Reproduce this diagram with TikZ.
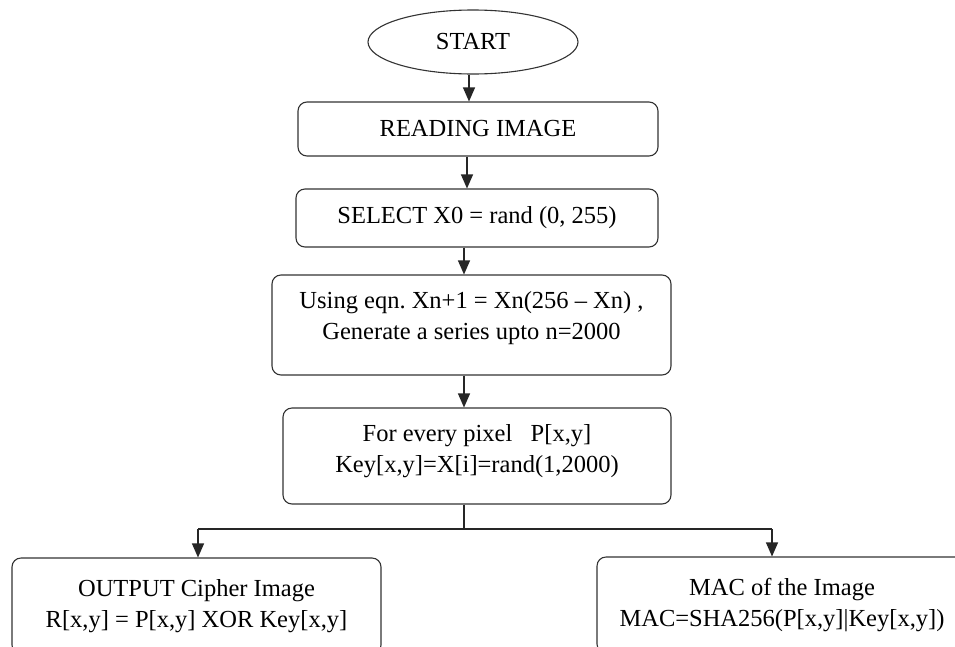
\documentclass[tikz,border=0pt]{standalone}
\usepackage{fontspec}
\setmainfont{Liberation Serif}
\usetikzlibrary{shapes.geometric,arrows.meta}
\begin{document}
\begin{tikzpicture}[x=1pt,y=-1pt,
  every node/.style={font=\fontsize{24.5}{31}\selectfont, text=black},
  procbox/.style={draw=black!80, line width=1.1pt, rounded corners=9pt, align=center, inner sep=0pt},
  txt/.style={align=center, inner sep=0pt},
  arr/.style={draw=black!85, line width=1.1pt, -{Triangle[width=12pt,length=14pt]}},
  ln/.style={draw=black!85, line width=1.1pt}]
\clip (0,0) rectangle (955,646);
\fill[white] (0,0) rectangle (955,646);
\node[draw=black!80, line width=1.1pt, ellipse, minimum width=210pt, minimum height=64pt, inner sep=0pt] (start) at (473,42) {START};
\node[procbox, minimum width=360pt, minimum height=54pt] (read) at (478,129) {READING IMAGE};
\node[procbox, minimum width=362pt, minimum height=58pt] (sel) at (477,218) {SELECT X0 = rand (0, 255)};
\node[procbox, minimum width=399pt, minimum height=100pt] (use) at (471.5,325) {};
\node[txt] (usetxt) at ([yshift=7pt]use.center) {Using eqn.\ Xn+1 = Xn(256 -- Xn) ,\\ Generate a series upto n=2000};
\node[procbox, minimum width=388pt, minimum height=96pt] (every) at (477,456) {};
\node[txt] (everytxt) at ([yshift=5pt]every.center) {For every pixel~~~P[x,y]\\ Key[x,y]=X[i]=rand(1,2000)};
\node[procbox, minimum width=369pt, minimum height=96pt] (out) at (196.5,606) {OUTPUT Cipher Image\\ R[x,y] = P[x,y] XOR Key[x,y]};
\node[procbox, minimum width=370pt, minimum height=96pt] (mac) at (782,605) {MAC of the Image\\ MAC=SHA256(P[x,y]|Key[x,y])};
\coordinate (jm) at (464,529);
\coordinate (jl) at (198,529);
\coordinate (jr) at (772,529);
\draw[arr] (start.south -| 469,0) -- (469,0 |- read.north);
\draw[arr] (read.south -| 467,0) -- (467,0 |- sel.north);
\draw[arr] (sel.south -| 464,0) -- (464,0 |- use.north);
\draw[arr] (use.south -| 464,0) -- (464,0 |- every.north);
\draw[ln] (every.south -| jm) -- (jm);
\draw[ln] (jl) -- (jr);
\draw[arr] (jl) -- (jl |- out.north);
\draw[arr] (jr) -- (jr |- mac.north);
\end{tikzpicture}
\end{document}
